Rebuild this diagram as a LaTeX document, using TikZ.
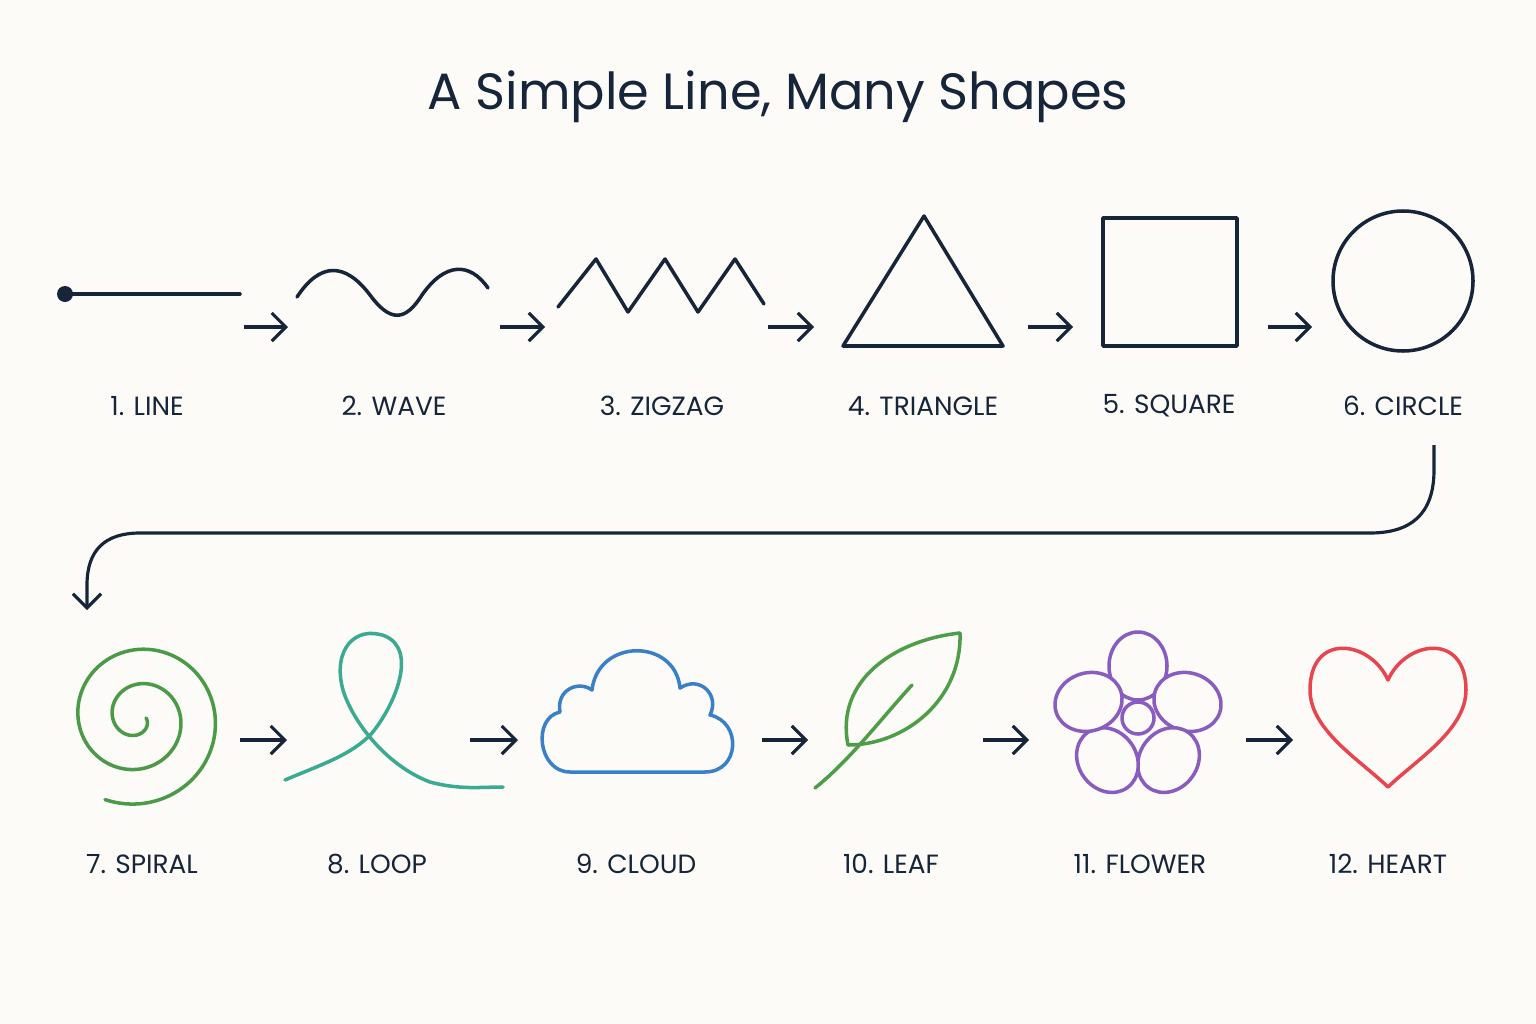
\documentclass[tikz,border=0pt]{standalone}
\usepackage{fontspec}
\setmainfont{Poppins}
\usetikzlibrary{arrows.meta}
\definecolor{ink}{HTML}{17253A}
\definecolor{paper}{HTML}{FCFBF8}
\definecolor{spiralc}{HTML}{4A9A48}
\definecolor{loopc}{HTML}{3AAA90}
\definecolor{cloudc}{HTML}{3A80C8}
\definecolor{leafc}{HTML}{4E9E48}
\definecolor{flowerc}{HTML}{8A5CC0}
\definecolor{heartc}{HTML}{E8454F}
\begin{document}
\begin{tikzpicture}[x=0.01cm,y=-0.01cm]
    \tikzstyle{outline}=[line width=1pt,draw=ink,line cap=round,line join=round]
    \tikzstyle{flow}=[line width=0.9pt,draw=ink,-{Straight Barb[length=4pt,width=8pt]}]
    \tikzstyle{caption}=[font=\fontsize{7.5}{9}\selectfont,text=ink]

    \fill[paper] (0,0) rectangle (1536,1024);
    \node[font=\fontsize{14.5}{17}\selectfont,text=ink] (title) at (778,97) {A Simple Line, Many Shapes};

    % first row
    {
      \fill[ink] (65,294) circle (8);
      \draw[outline] (65,294) -- (240,294);
      \draw[outline] (297,297) .. controls (320,262) and (345,262) .. (370,295)
        .. controls (390,322) and (405,322) .. (422,295)
        .. controls (445,262) and (470,262) .. (488,288);
      \draw[outline] (558,307) -- (596,259) -- (628,312) -- (665,259) -- (698,312) -- (735,259) -- (764,304);
      \draw[outline] (924,216) -- (843,346) -- (1003,346) -- cycle;
      \draw[outline] (1103,218) rectangle (1237,346);
      \draw[outline] (1403,281) circle (70);
    }

    {
      \node[caption] (l1) at (147,406) {1. LINE};
      \node[caption] (l2) at (394,406) {2. WAVE};
      \node[caption] (l3) at (662,406) {3. ZIGZAG};
      \node[caption] (l4) at (923,406) {4. TRIANGLE};
      \node[caption] (l5) at (1169,406) {5. SQUARE};
      \node[caption] (l6) at (1403,406) {6. CIRCLE};
    }

    \foreach \a/\b in {244/288,500/545,768/814,1028/1073,1268/1312}{
      \coordinate (s\a) at (\a,327);
      \coordinate (e\a) at (\b,327);
      \draw[flow] (s\a) -- (e\a);
    }

    % turn to second row
    \coordinate (t1) at (1434,445);
    \coordinate (t2) at (87,610);
    \draw[flow] (t1) -- (1434,470) .. controls (1434,515) and (1410,533) .. (1370,533)
      -- (140,533) .. controls (105,533) and (87,550) .. (87,585) -- (t2);

    % second row
    {
      \draw[outline,draw=spiralc] plot[domain=0:832,samples=240,smooth]
        ({138+(8+\x/832*80)*cos(\x)},{718+(8+\x/832*80)*sin(\x)});
      \draw[outline,draw=loopc] (285,780) .. controls (320,765) and (352,755) .. (372,733)
        .. controls (395,705) and (418,650) .. (385,636)
        .. controls (355,625) and (332,650) .. (343,690)
        .. controls (352,720) and (385,765) .. (430,782)
        .. controls (460,790) and (480,787) .. (503,787);
      \draw[outline,draw=cloudc] (570,772) .. controls (538,772) and (532,718) .. (560,712)
        .. controls (556,690) and (578,680) .. (592,690)
        .. controls (598,638) and (675,638) .. (680,688)
        .. controls (700,675) and (720,695) .. (710,715)
        .. controls (742,722) and (740,772) .. (705,772) -- cycle;
      \draw[outline,draw=leafc] (960,633) .. controls (895,640) and (835,680) .. (848,745)
        .. controls (905,745) and (962,700) .. (960,633);
      \draw[outline,draw=leafc] (815,788) .. controls (850,760) and (880,720) .. (912,685);
      \foreach \ang in {-90,-18,54,126,198}{
        \draw[outline,draw=flowerc,fill=paper] (1138,718) ++(\ang:52)
          ellipse[x radius=34,y radius=29,rotate=\ang];
      }
      \draw[outline,draw=flowerc,fill=paper] (1138,718) circle (16);
      \draw[outline,draw=heartc] (1388,680) .. controls (1370,640) and (1310,632) .. (1310,690)
        .. controls (1310,730) and (1360,760) .. (1388,787)
        .. controls (1416,760) and (1466,730) .. (1466,690)
        .. controls (1466,632) and (1406,640) .. (1388,680);
    }

    {
      \node[caption] (l7) at (142,864) {7. SPIRAL};
      \node[caption] (l8) at (377,864) {8. LOOP};
      \node[caption] (l9) at (636,864) {9. CLOUD};
      \node[caption] (l10) at (891,864) {10. LEAF};
      \node[caption] (l11) at (1140,864) {11. FLOWER};
      \node[caption] (l12) at (1388,864) {12. HEART};
    }

    \foreach \a/\b in {240/287,470/518,762/808,983/1029,1246/1293}{
      \coordinate (u\a) at (\a,740);
      \coordinate (v\a) at (\b,740);
      \draw[flow] (u\a) -- (v\a);
    }
\end{tikzpicture}
\end{document}
